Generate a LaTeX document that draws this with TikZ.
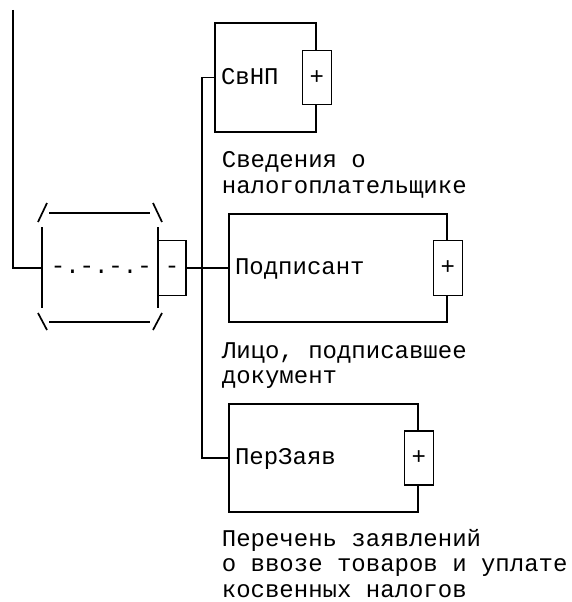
\documentclass[tikz,border=0pt]{standalone}
\usepackage{fontspec}
\setmonofont{Liberation Mono}
\usetikzlibrary{positioning}
\begin{document}
\begin{tikzpicture}[
    x=1pt,y=-1pt,
    line width=1.7pt,
    every node/.style={font=\ttfamily\fontsize{24}{25.5}\selectfont,inner sep=0pt},
    box/.style={draw,minimum width=#1,minimum height=108pt,text width=#1-12pt,inner xsep=6pt,align=left,text height=13.5pt,text depth=0pt},
    plusbox/.style={draw,fill=white,minimum width=29pt,minimum height=54pt},
    txt/.style={anchor=base west,align=left}
]
\useasboundingbox (0,0) rectangle (571,602);

% elements
\node[box=101pt,minimum height=109pt] (svnp) at (265.5,77.5) {СвНП};
\node[plusbox] (svnpP) at (svnp.east) {+};
\node[box=218pt] (podp) at (338,268) {Подписант};
\node[plusbox,minimum height=55pt] (podpP) at (podp.east) {+};
\node[box=189pt] (perz) at (323.5,458) {ПерЗаяв};
\node[plusbox] (perzP) at (perz.east) {+};

% captions (base = last line)
\node[txt] (svnpL) at (221,193) {Сведения о\\налогоплательщике};
\node[txt] (podpL) at (221,383.5) {Лицо, подписавшее\\документ};
\node[txt] (perzL) at (221,597) {Перечень заявлений\\о ввозе товаров и уплате\\косвенных налогов};

% sequence
\draw (38,222) -- (47,203);
\draw (49,213) -- (150,213);
\draw (153,203) -- (162,222);
\draw (42,227) -- (42,308);
\draw (158,227) -- (158,308);
\draw (38,313) -- (47,330);
\draw (49,322) -- (150,322);
\draw (153,330) -- (162,313);
\node[txt] (seqT) at (50,273.5) {-.-.-.-};
\node[draw,minimum width=28pt,minimum height=55pt,text height=10pt,text depth=0pt] (seqR) at (172,268) {-};

% wires
\coordinate (root) at (13,10);
\coordinate (seqL) at (42,268);
\coordinate (bus) at (202,268);
\draw (root) |- (seqL);
\draw (seqR.east) -- (podp.west);
\draw (svnp.west) -| (bus) |- (perz.west);
\end{tikzpicture}
\end{document}
